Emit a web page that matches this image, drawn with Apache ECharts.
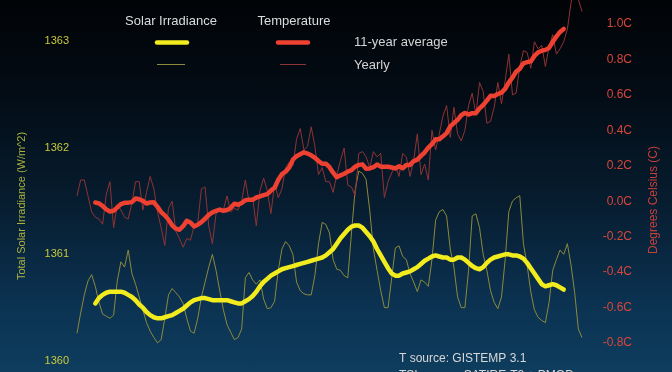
<!DOCTYPE html>
<html><head><meta charset="utf-8">
<script src="https://cdn.jsdelivr.net/npm/echarts@6/dist/echarts.min.js"></script>
<style>
html,body{margin:0;padding:0;}
body{width:672px;height:372px;overflow:hidden;background:linear-gradient(to bottom,#010306 0%,#030c15 25%,#071d30 55%,#0b3150 80%,#0e3d5e 100%);}
#c{width:672px;height:372px;}
</style>
</head><body><div id="c"></div>
<script>
// years
const YEARLY_START = 1880;   // first year of yearly series
const AVG_START = 1885;      // first year of 11-year averages

// Temperature (C), yearly, 1880-2018
const tempYearly = [0.03,0.12,0.12,0.03,-0.06,-0.09,-0.10,-0.13,0.04,0.11,
-0.15,-0.02,-0.05,-0.09,-0.10,-0.01,0.11,0.11,-0.05,0.05,
0.14,0.07,-0.06,-0.15,-0.25,-0.04,0.00,-0.17,-0.21,-0.26,
-0.21,-0.22,-0.14,-0.12,0.07,0.08,-0.14,-0.24,-0.07,-0.05,
-0.05,0.03,-0.06,-0.04,-0.05,0.00,0.12,0.00,0.02,-0.14,
0.06,0.13,0.06,-0.07,0.10,0.02,0.07,0.19,0.22,0.20,
0.35,0.41,0.29,0.31,0.42,0.31,0.15,0.19,0.11,0.11,
0.05,0.15,0.23,0.30,0.09,0.08,0.03,0.27,0.28,0.25,
0.19,0.28,0.25,0.27,0.02,0.11,0.16,0.20,0.14,0.27,
0.25,0.14,0.23,0.38,0.15,0.21,0.12,0.40,0.29,0.38,
0.48,0.54,0.36,0.53,0.38,0.34,0.40,0.54,0.61,0.49,
0.67,0.62,0.44,0.45,0.53,0.67,0.55,0.68,0.83,0.60,
0.61,0.76,0.85,0.84,0.75,0.90,0.86,0.88,0.76,0.87,
0.94,0.83,0.86,0.90,0.97,1.12,1.23,1.14,1.07];

// Temperature (C), 11-year average, 1885-2013
const tempAvg = [-0.007,-0.012,-0.027,-0.046,-0.058,
-0.054,-0.035,-0.016,-0.009,-0.008,-0.005,0.015,0.011,0.002,-0.013,
-0.007,-0.006,-0.032,-0.061,-0.080,-0.104,-0.136,-0.155,-0.161,-0.141,
-0.111,-0.120,-0.142,-0.133,-0.118,-0.099,-0.077,-0.063,-0.054,-0.047,
-0.054,-0.050,-0.037,-0.014,-0.020,-0.010,0.006,0.009,0.008,0.021,
0.027,0.034,0.040,0.060,0.076,0.121,0.153,0.167,0.190,0.235,
0.254,0.265,0.276,0.269,0.259,0.245,0.227,0.211,0.212,0.192,
0.161,0.135,0.146,0.155,0.167,0.175,0.195,0.205,0.208,0.183,
0.185,0.192,0.207,0.195,0.195,0.195,0.190,0.185,0.197,0.186,
0.204,0.205,0.226,0.235,0.256,0.275,0.302,0.322,0.349,0.349,
0.366,0.384,0.422,0.441,0.459,0.485,0.498,0.489,0.497,0.497,
0.524,0.543,0.568,0.595,0.594,0.605,0.613,0.634,0.670,0.697,
0.731,0.748,0.778,0.785,0.789,0.820,0.840,0.849,0.854,0.865,
0.899,0.929,0.955,0.972];

// Total solar irradiance (W/m^2), yearly, 1880-2018
const tsiYearly = [1360.26,1360.45,1360.62,1360.75,1360.81,1360.70,1360.55,1360.44,1360.42,1360.40,
1360.43,1360.75,1360.93,1360.88,1361.04,1360.82,1360.72,1360.60,1360.48,1360.36,
1360.28,1360.22,1360.17,1360.20,1360.40,1360.62,1360.68,1360.64,1360.60,1360.54,
1360.40,1360.28,1360.26,1360.40,1360.60,1360.74,1360.88,1361.00,1360.85,1360.66,
1360.48,1360.34,1360.27,1360.20,1360.22,1360.30,1360.78,1360.83,1360.76,1360.72,
1360.76,1360.58,1360.49,1360.50,1360.56,1360.85,1361.05,1361.12,1361.08,1361.00,
1360.74,1360.66,1360.63,1360.62,1360.62,1360.80,1361.10,1361.30,1361.28,1361.20,
1360.95,1360.86,1360.85,1360.80,1360.78,1361.20,1361.60,1361.78,1361.76,1361.70,
1361.41,1361.05,1360.85,1360.66,1360.50,1360.50,1360.78,1361.06,1361.08,1360.98,
1360.95,1360.82,1360.74,1360.65,1360.76,1360.74,1360.70,1360.95,1361.32,1361.40,
1361.42,1361.36,1361.05,1360.88,1360.60,1360.50,1360.50,1360.85,1361.36,1361.38,
1361.25,1361.00,1360.85,1360.66,1360.55,1360.49,1360.60,1360.95,1361.40,1361.50,
1361.53,1361.55,1361.10,1360.90,1360.65,1360.48,1360.41,1360.38,1360.36,1360.55,
1360.85,1360.95,1361.04,1361.00,1361.10,1360.90,1360.64,1360.30,1360.22];

// Total solar irradiance (W/m^2), 11-year average, 1885-2013
const tsiAvg = [1360.54,1360.59,1360.62,1360.64,1360.65,
1360.65,1360.65,1360.65,1360.64,1360.62,1360.60,1360.57,1360.53,1360.50,1360.46,
1360.43,1360.41,1360.40,1360.40,1360.41,1360.42,1360.43,1360.45,1360.47,1360.49,
1360.52,1360.55,1360.57,1360.58,1360.59,1360.59,1360.58,1360.57,1360.57,1360.57,
1360.57,1360.57,1360.56,1360.55,1360.54,1360.54,1360.56,1360.58,1360.61,1360.65,
1360.70,1360.74,1360.77,1360.80,1360.82,1360.84,1360.86,1360.87,1360.88,1360.89,
1360.90,1360.91,1360.92,1360.93,1360.94,1360.95,1360.96,1360.97,1360.99,1361.02,
1361.05,1361.10,1361.15,1361.19,1361.23,1361.26,1361.27,1361.27,1361.25,1361.21,
1361.17,1361.12,1361.05,1360.99,1360.93,1360.87,1360.82,1360.80,1360.80,1360.82,
1360.83,1360.84,1360.86,1360.88,1360.91,1360.94,1360.96,1360.98,1360.99,1360.98,
1360.97,1360.97,1360.95,1360.95,1360.97,1360.97,1360.95,1360.92,1360.89,1360.87,
1360.86,1360.88,1360.92,1360.95,1360.97,1360.98,1360.99,1361.00,1361.00,1360.99,
1360.99,1360.98,1360.96,1360.92,1360.87,1360.82,1360.77,1360.72,1360.70,1360.71,
1360.72,1360.71,1360.69,1360.67];

// tick labels
const tsiTicks = {min:1360, max:1363, step:1};
const tempTicks = {min:-0.8, max:1.0, step:0.2};

const pairs = (start, arr) => arr.map((v,i) => [start + i, v]);

const FONT = '"Liberation Sans", Arial, Helvetica, sans-serif';
const chart = echarts.init(document.getElementById('c'), null, {renderer:'canvas'});

const hidden = {show:false};
chart.setOption({
  animation:false,
  backgroundColor:'transparent',
  grid:[
    {left:77, right:90, top:41, bottom:11},
    {left:77, right:90, top:24, bottom:29}
  ],
  xAxis:[
    {type:'value', gridIndex:0, min:1880, max:2018, show:false, splitLine:hidden},
    {type:'value', gridIndex:1, min:1880, max:2018, show:false, splitLine:hidden}
  ],
  yAxis:[
    {type:'value', gridIndex:0, position:'left', min:tsiTicks.min, max:tsiTicks.max, interval:tsiTicks.step,
     axisLine:hidden, axisTick:hidden, splitLine:hidden,
     axisLabel:{color:'#c8c93a', fontSize:11, fontFamily:FONT, margin:8, formatter:v => String(Math.round(v))}},
    {type:'value', gridIndex:1, position:'right', min:tempTicks.min, max:tempTicks.max, interval:tempTicks.step,
     axisLine:hidden, axisTick:hidden, splitLine:hidden,
     axisLabel:{color:'#d8463a', fontSize:12, fontFamily:FONT, margin:50, align:'right',
       formatter:v => (Math.abs(v)<1e-9?0:v).toFixed(1)+'C'}}
  ],
  series:[
    {name:'TSI yearly', type:'line', xAxisIndex:0, yAxisIndex:0, data:pairs(YEARLY_START, tsiYearly),
     showSymbol:false, lineStyle:{width:1, color:'#8c8a3c'}, z:1, silent:true},
    {name:'Temp yearly', type:'line', xAxisIndex:1, yAxisIndex:1, data:pairs(YEARLY_START, tempYearly),
     showSymbol:false, clip:false, lineStyle:{width:1, color:'#8f3434'}, z:1, silent:true},
    {name:'TSI 11-yr', type:'line', xAxisIndex:0, yAxisIndex:0, data:pairs(AVG_START, tsiAvg),
     showSymbol:false, lineStyle:{width:4.5, color:'#f2ec1e', cap:'round', join:'round'}, z:3, silent:true},
    {name:'Temp 11-yr', type:'line', xAxisIndex:1, yAxisIndex:1, data:pairs(AVG_START, tempAvg),
     showSymbol:false, lineStyle:{width:4.5, color:'#ef4131', cap:'round', join:'round'}, z:3, silent:true}
  ],
  graphic:[
    {type:'text', x:171, y:21, style:{text:'Solar Irradiance', fill:'#dcdcdc', font:'13px '+FONT, textAlign:'center', textVerticalAlign:'middle', verticalAlign:'middle'}},
    {type:'text', x:294, y:21, style:{text:'Temperature', fill:'#dcdcdc', font:'13px '+FONT, textAlign:'center', textVerticalAlign:'middle', verticalAlign:'middle'}},
    {type:'line', shape:{x1:157, y1:42.5, x2:187, y2:42.5}, style:{stroke:'#f2ec1e', lineWidth:4.5, lineCap:'round'}},
    {type:'line', shape:{x1:278, y1:42.5, x2:308, y2:42.5}, style:{stroke:'#ef4131', lineWidth:4.5, lineCap:'round'}},
    {type:'line', shape:{x1:157, y1:64.5, x2:185, y2:64.5}, style:{stroke:'#8c8a3c', lineWidth:1}},
    {type:'line', shape:{x1:280, y1:64.5, x2:306, y2:64.5}, style:{stroke:'#8f3434', lineWidth:1}},
    {type:'text', x:354, y:42, style:{text:'11-year average', fill:'#d4d4d4', font:'13px '+FONT, textAlign:'left', textVerticalAlign:'middle', verticalAlign:'middle'}},
    {type:'text', x:354, y:65, style:{text:'Yearly', fill:'#d4d4d4', font:'13px '+FONT, textAlign:'left', textVerticalAlign:'middle', verticalAlign:'middle'}},
    {type:'text', x:22, y:206, rotation:Math.PI/2, style:{text:'Total Solar Irradiance (W/m^2)', fill:'#a9b23e', font:'11px '+FONT, textAlign:'center', textVerticalAlign:'middle', verticalAlign:'middle'}},
    {type:'text', x:654, y:200, rotation:Math.PI/2, style:{text:'Degrees Celsius (C)', fill:'#c4403a', font:'12px '+FONT, textAlign:'center', textVerticalAlign:'middle', verticalAlign:'middle'}},
    {type:'text', x:399, y:359, style:{text:'T source: GISTEMP 3.1', fill:'#d8d8d8', font:'12px '+FONT, textAlign:'left', textVerticalAlign:'middle', verticalAlign:'middle'}},
    {type:'text', x:399, y:376, style:{text:'TSI source: SATIRE-T2 + PMOD', fill:'#d8d8d8', font:'12px '+FONT, textAlign:'left', textVerticalAlign:'middle', verticalAlign:'middle'}}
  ]
});
</script>
</body></html>
